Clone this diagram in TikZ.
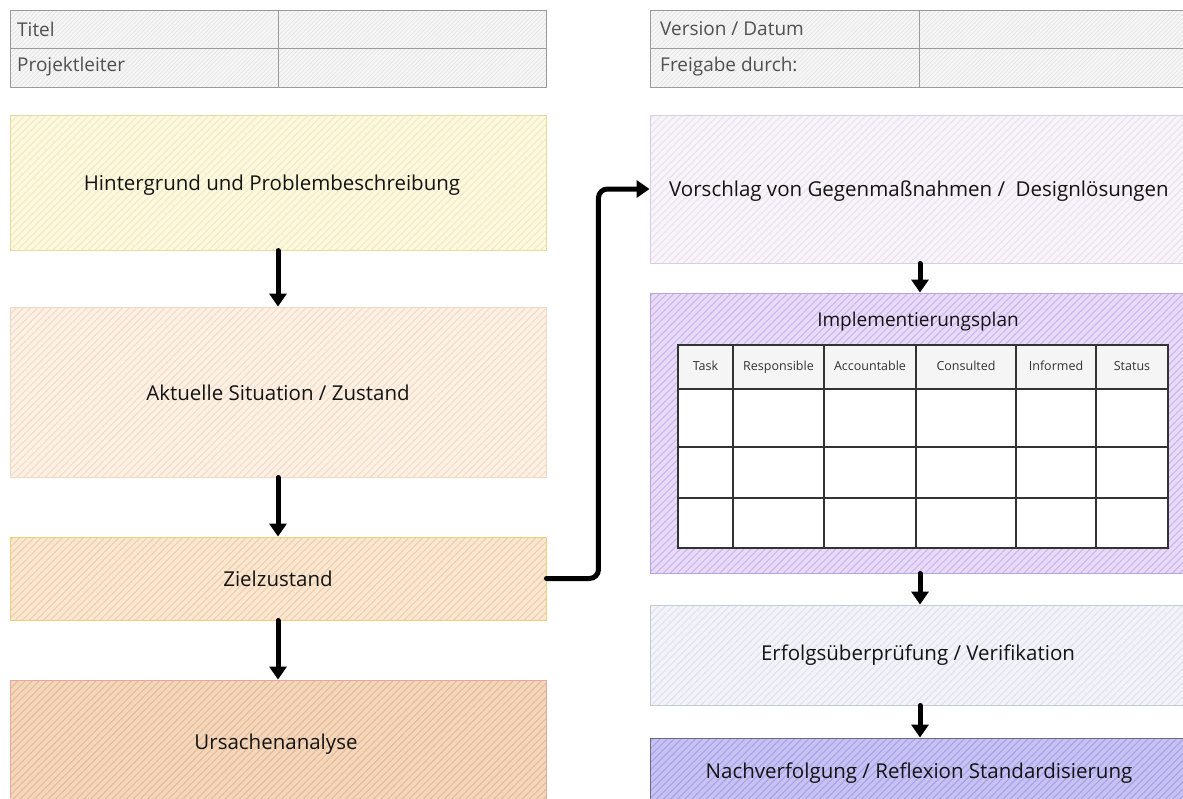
\documentclass[tikz,border=0pt]{standalone}
\usepackage{fontspec}
\setmainfont{Open Sans}
\usetikzlibrary{patterns.meta,arrows.meta}
\definecolor{f1}{HTML}{FDF9E0}\definecolor{h1}{HTML}{F2EAC0}\definecolor{d1}{HTML}{E6DA9E}
\definecolor{f2}{HTML}{FDF1E5}\definecolor{h2}{HTML}{F4DCC6}\definecolor{d2}{HTML}{EFD9C4}
\definecolor{f3}{HTML}{FBE6D0}\definecolor{h3}{HTML}{EFCEAE}\definecolor{d3}{HTML}{E6D27C}
\definecolor{f4}{HTML}{F4D6BA}\definecolor{h4}{HTML}{E6BC98}\definecolor{d4}{HTML}{E4A8A2}
\definecolor{f5}{HTML}{F8F4FA}\definecolor{h5}{HTML}{EAE2EF}\definecolor{d5}{HTML}{D8CCE6}
\definecolor{f6}{HTML}{E8DBF8}\definecolor{h6}{HTML}{CDB6EF}\definecolor{d6}{HTML}{B9A6D8}
\definecolor{f7}{HTML}{F2F4FA}\definecolor{h7}{HTML}{DFE3EE}\definecolor{d7}{HTML}{C6CAD6}
\definecolor{f8}{HTML}{C6C2F3}\definecolor{h8}{HTML}{A8A3E8}\definecolor{d8}{HTML}{6A6A7A}
\definecolor{fh}{HTML}{F5F5F5}\definecolor{hh}{HTML}{E2E2E2}\definecolor{dh}{HTML}{9A9A9A}
\definecolor{txt}{HTML}{141414}\definecolor{htxt}{HTML}{505050}
\newcommand\mainsz{\fontsize{20.5}{24}\selectfont}
\newcommand\hdsz{\fontsize{19}{22}\selectfont}
\newcommand\tabsz{\fontsize{12.5}{15}\selectfont}
\tikzset{
  sbox/.style n args={3}{draw=#3, line width=0.9pt, preaction={fill=#1},
    pattern={Lines[angle=45,distance=5pt,line width=1.1pt]}, pattern color=#2,
    inner sep=0pt, anchor=center, text=txt, font=\mainsz},
  lbox/.style={minimum width=536pt},
  rbox/.style={minimum width=540pt},
  lbl/.style={text=txt, font=\mainsz, inner sep=0pt},
  hcell/.style={draw=dh, line width=0.9pt, preaction={fill=fh},
    pattern={Lines[angle=45,distance=3pt,line width=0.5pt]}, pattern color=hh},
  hlabel/.style={anchor=west, text=htxt, font=\hdsz, inner sep=0pt},
  flow/.style={line width=5pt, line cap=round, -{Triangle[length=13pt,width=17pt]}},
  tabline/.style={draw=black!80, line width=1.3pt},
  thead/.style={text=black!80, font=\tabsz, inner sep=0pt, text height=9pt, text depth=3pt}
}
\begin{document}
\begin{tikzpicture}[x=1pt,y=-1pt]
\useasboundingbox (0,0) rectangle (1183,798);
\fill[white] (0,0) rectangle (1183,798);

% header tables
\path[hcell] (10,10) rectangle (546,87);
\draw[dh, line width=0.9pt] (10,48) -- (546,48) (278,10) -- (278,87);
\node[hlabel] (titel) at (17,29) {Titel};
\node[hlabel] (pl) at (17,67) {Projektleiter};
\path[hcell] (650,10) rectangle (1190,87);
\draw[dh, line width=0.9pt] (650,48) -- (1190,48) (919,10) -- (919,87);
\node[hlabel] (ver) at (660,29) {Version / Datum};
\node[hlabel] (frei) at (660,67) {Freigabe durch:};

% left column
\node[sbox={f1}{h1}{d1}, lbox, minimum height=135pt] (b1) at (278,182.5) {};
\node[lbl] (l1) at (272,185) {Hintergrund und Problembeschreibung};
\node[sbox={f2}{h2}{d2}, lbox, minimum height=170pt] (b2) at (278,392) {};
\node[lbl] (l2) at (278,393) {Aktuelle Situation / Zustand};
\node[sbox={f3}{h3}{d3}, lbox, minimum height=83pt] (b3) at (278,578.5) {};
\node[lbl] (l3) at (278,579) {Zielzustand};
\node[sbox={f4}{h4}{d4}, lbox, minimum height=126pt] (b4) at (278,743) {};
\node[lbl] (l4) at (276,744) {Ursachenanalyse};

% right column
\node[sbox={f5}{h5}{d5}, rbox, minimum height=148pt] (b5) at (920,189) {};
\node[lbl] (l5) at (919,191) {Vorschlag von Gegenmaßnahmen /\ \ Designlösungen};
\node[sbox={f6}{h6}{d6}, rbox, minimum height=280pt] (b6) at (920,433) {};
\node[sbox={f7}{h7}{d7}, rbox, minimum height=100pt] (b7) at (920,655) {};
\node[lbl] (l7) at (918,655) {Erfolgsüberprüfung / Verifikation};
\node[sbox={f8}{h8}{d8}, rbox, minimum height=70pt] (b8) at (920,773) {};
\node[lbl] (l8) at (919,773) {Nachverfolgung / Reflexion Standardisierung};

% implementation plan
\node[text=txt, font=\fontsize{19}{22}\selectfont, inner sep=0pt] (plan) at (918,322) {Implementierungsplan};
\fill[white] (678,345) rectangle (1168,548);
\fill[black!4] (678,345) rectangle (1168,389);
\draw[tabline] (678,345) rectangle (1168,548);
\draw[tabline] (678,389) -- (1168,389) (678,447) -- (1168,447) (678,498) -- (1168,498);
\foreach \x in {733,824,916,1016,1096} \draw[tabline] (\x,345) -- (\x,548);
\node[thead] (t1) at (705.5,367) {Task};
\node[thead] (t2) at (778.5,367) {Responsible};
\node[thead] (t3) at (870,367) {Accountable};
\node[thead] (t4) at (966,367) {Consulted};
\node[thead] (t5) at (1056,367) {Informed};
\node[thead] (t6) at (1132,367) {Status};

% connectors
\draw[flow] (b1.south) -- (b2.north);
\draw[flow] (b2.south) -- (b3.north);
\draw[flow] (b3.south) -- (b4.north);
\draw[flow, rounded corners=9pt] (b3.east) -- ++(52,0) |- (b5.west);
\draw[flow] (b5.south) -- (b6.north);
\draw[flow] (b6.south) -- (b7.north);
\draw[flow] (b7.south) -- (b8.north);
\end{tikzpicture}
\end{document}
